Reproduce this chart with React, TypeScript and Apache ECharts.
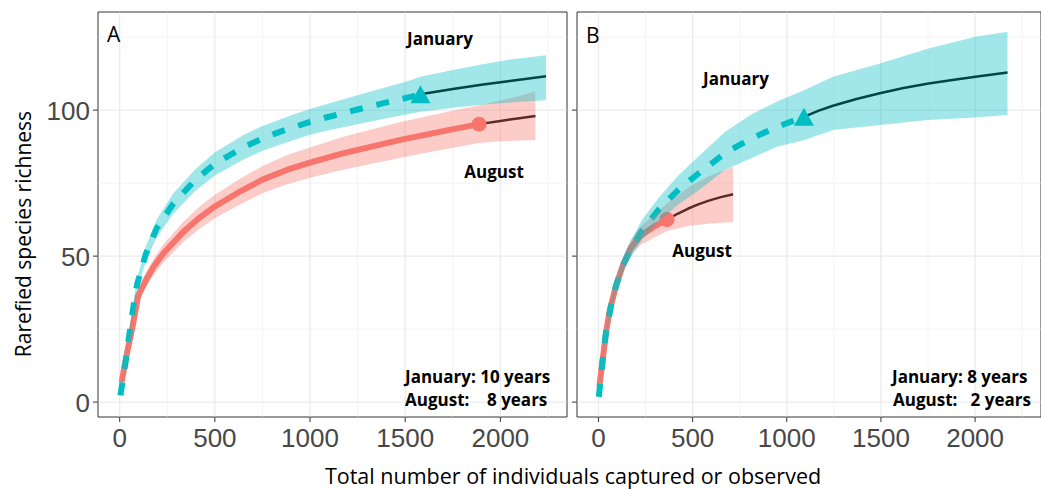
import React, { useEffect, useRef } from 'react';
import * as echarts from 'echarts';

// ---------- Panel A ----------
const janA_x = [4, 29, 48, 74, 92, 136, 194, 282, 396, 500, 651, 750, 830, 916, 1000, 1074, 1250, 1376, 1512, 1580];
const janA_y = [2.3, 13, 22, 33.5, 40.5, 50.5, 59.5, 68, 76, 81.6, 87.3, 90.3, 92.3, 94.2, 96, 97.3, 100.2, 102.2, 104.3, 105.4];
const janA_extX = [1580, 1750, 1900, 2050, 2240];
const janA_extY = [105.4, 107.2, 108.7, 110, 111.6];
const janA_bandX = [4, 29, 48, 74, 92, 136, 194, 282, 396, 500, 651, 750, 916, 1000, 1074, 1250, 1376, 1512, 1580, 1750, 1900, 2050, 2240];
const janA_lo = [1.9, 12, 20.6, 31.7, 38.4, 47.9, 56.5, 64.5, 72.3, 77.6, 83.1, 86.1, 89.8, 91.6, 92.8, 95.2, 96.9, 98.6, 99.4, 100.8, 101.8, 102.6, 103.4];
const janA_hi = [2.7, 14, 23.4, 35.3, 42.6, 53.1, 62.5, 71.5, 79.7, 85.6, 91.5, 94.6, 98.6, 100.4, 101.8, 105.1, 107.4, 109.9, 111.4, 113.7, 115.6, 117.3, 118.8];
const janA_ref = [1580, 105.4];

const augA_x = [10, 39, 68, 97, 116, 141, 180, 229, 334, 420, 500, 634, 750, 881, 1000, 1162, 1250, 1475, 1700, 1888];
const augA_y = [6.8, 17, 26, 36.4, 38.9, 42.2, 46.5, 50.9, 58.3, 63.2, 67, 72.2, 76.2, 79.6, 82, 85, 86.4, 89.8, 92.8, 95.2];
const augA_extX = [1888, 2000, 2100, 2184];
const augA_extY = [95.2, 96.3, 97.2, 98];
const augA_bandX = [10, 39, 68, 97, 116, 141, 180, 229, 334, 420, 500, 634, 750, 881, 1000, 1162, 1250, 1475, 1700, 1888, 2000, 2100, 2184];
const augA_lo = [6.2, 15.8, 24.4, 34.4, 36.7, 39.7, 43.7, 47.8, 54.8, 59.4, 63, 67.8, 71.5, 74.6, 76.8, 79.4, 80.6, 83.7, 86.5, 88.7, 89.3, 89.6, 89.8];
const augA_hi = [7.4, 18.2, 27.6, 38.4, 41.1, 44.7, 49.3, 54, 61.8, 67, 71, 76.6, 80.9, 84.6, 87.2, 90.6, 92.2, 95.9, 99.1, 101.7, 103.3, 104.8, 106.5];
const augA_ref = [1888, 95.2];

// ---------- Panel B ----------
const janB_x = [2, 19, 40, 67, 93, 128, 172, 233, 321, 426, 531, 671, 811, 951, 1091];
const janB_y = [1.8, 12.5, 23.9, 33, 39.8, 46.6, 52.5, 59, 66, 72.8, 78.3, 85.2, 90.3, 94.3, 97.7];
const janB_extX = [1091, 1170, 1245, 1370, 1494, 1620, 1753, 1880, 2002, 2172];
const janB_extY = [97.7, 99.8, 101.5, 103.8, 105.8, 107.6, 109.1, 110.3, 111.4, 112.9];
const janB_bandX = [2, 19, 40, 67, 93, 128, 172, 233, 321, 426, 531, 671, 811, 951, 1091, 1245, 1494, 1753, 2002, 2172];
const janB_lo = [1.4, 11.5, 22.6, 31.4, 37.8, 44.2, 49.7, 55.8, 61.9, 67.8, 72.5, 79.5, 83.5, 87.5, 89.7, 93.2, 94.9, 96.6, 97.5, 98.3];
const janB_hi = [2.2, 13.5, 25.2, 34.6, 41.8, 49, 55.3, 62.6, 70.1, 77.8, 84.1, 92.5, 98.5, 103, 106.8, 111.4, 116, 121.1, 125.1, 126.8];
const janB_ref = [1091, 97.7];

const augB_x = [5, 23, 40, 61, 93, 128, 171, 224, 300, 364];
const augB_y = [5.5, 14.8, 23.9, 31.8, 39.8, 46.6, 52.8, 57, 60.3, 62.5];
const augB_extX = [364, 420, 477, 530, 582, 650, 715];
const augB_extY = [62.5, 64.5, 66.3, 67.7, 68.9, 70.2, 71.2];
const augB_bandX = [5, 23, 40, 61, 93, 128, 171, 224, 300, 364, 477, 582, 715];
const augB_lo = [4.8, 13.8, 22.6, 30.2, 37.9, 44.4, 50.2, 53.8, 56.5, 58.6, 60.3, 61.1, 61.7];
const augB_hi = [6.2, 15.8, 25.2, 33.4, 41.7, 48.8, 55.4, 60.2, 64.3, 68, 73.5, 77.3, 80.6];
const augB_ref = [364, 62.5];

// ---------- Axes ----------
const xMajor = [0, 500, 1000, 1500, 2000];
const xMinor = [250, 750, 1250, 1750, 2250];
const yMajor = [0, 50, 100];
const yMinor = [25, 75, 125];
const xTickLabels = ['0', '500', '1000', '1500', '2000'];
const yTickLabels = ['0', '50', '100'];

const JAN = '#00BFC4';
const AUG = '#F8766D';
const JAN_BAND = 'rgba(0,191,196,0.37)';
const AUG_BAND = 'rgba(248,118,109,0.37)';

const pts = (xs: number[], ys: number[]) => xs.map((x, i) => [x, ys[i]]);

function frameSeries(idx: number) {
  return {
    type: 'custom',
    xAxisIndex: idx,
    yAxisIndex: idx,
    z: 1,
    silent: true,
    clip: false,
    data: [[0, 0]],
    renderItem: (params: any, api: any) => {
      const cs = params.coordSys;
      const top = cs.y;
      const bottom = cs.y + cs.height;
      const left = cs.x;
      const right = cs.x + cs.width;
      const ch: any[] = [];
      const vline = (px: number, color: string, w: number) =>
        ch.push({ type: 'line', shape: { x1: px, y1: top + 0.5, x2: px, y2: bottom - 0.5 }, style: { stroke: color, lineWidth: w } });
      const hline = (py: number, color: string, w: number) =>
        ch.push({ type: 'line', shape: { x1: left + 0.5, y1: py, x2: right - 0.5, y2: py }, style: { stroke: color, lineWidth: w } });
      xMinor.forEach((v) => vline(api.coord([v, 0])[0], '#F4F4F4', 1));
      yMinor.forEach((v) => hline(api.coord([0, v])[1], '#F4F4F4', 1));
      xMajor.forEach((v) => vline(api.coord([v, 0])[0], '#EBEBEB', 1.3));
      yMajor.forEach((v) => hline(api.coord([0, v])[1], '#EBEBEB', 1.3));
      xMajor.forEach((v, i) => {
        const px = api.coord([v, 0])[0];
        ch.push({ type: 'line', shape: { x1: px, y1: bottom, x2: px, y2: bottom + 5 }, style: { stroke: '#333', lineWidth: 1 } });
        ch.push({
          type: 'text',
          x: px,
          y: bottom + 20.5,
          style: { text: xTickLabels[i], fill: '#474747', fontSize: 26, fontFamily: 'Liberation Sans', align: 'center', verticalAlign: 'middle' },
        });
      });
      yMajor.forEach((v, i) => {
        const py = api.coord([0, v])[1];
        ch.push({ type: 'line', shape: { x1: left - 5, y1: py, x2: left, y2: py }, style: { stroke: '#333', lineWidth: 1 } });
        if (idx === 0) {
          ch.push({
            type: 'text',
            x: left - 8,
            y: py + 1,
            style: { text: yTickLabels[i], fill: '#474747', fontSize: 26, fontFamily: 'Liberation Sans', align: 'right', verticalAlign: 'middle' },
          });
        }
      });
      return { type: 'group', children: ch };
    },
  };
}

function bandSeries(idx: number, xs: number[], lo: number[], hi: number[], color: string, z: number) {
  return {
    type: 'custom',
    xAxisIndex: idx,
    yAxisIndex: idx,
    z,
    silent: true,
    clip: false,
    data: xs.map((x, i) => [x, lo[i], hi[i]]),
    renderItem: (params: any, api: any) => {
      if (params.dataIndex !== 0) return null;
      const upper = xs.map((x, i) => api.coord([x, hi[i]]));
      const lower = xs.map((x, i) => api.coord([x, lo[i]])).reverse();
      return { type: 'polygon', shape: { points: upper.concat(lower) }, style: { fill: color } };
    },
  };
}

function lineSeries(idx: number, xs: number[], ys: number[], color: string, width: number, dashed: boolean, z: number) {
  return {
    type: 'line',
    xAxisIndex: idx,
    yAxisIndex: idx,
    z,
    silent: true,
    data: pts(xs, ys),
    symbol: 'none',
    showSymbol: false,
    smooth: false,
    lineStyle: { color, width, type: dashed ? [13, 14] : 'solid', cap: 'butt', join: 'round' },
  };
}

function markerSeries(idx: number, p: number[], symbol: string, size: any, color: string) {
  return {
    type: 'scatter',
    xAxisIndex: idx,
    yAxisIndex: idx,
    z: 3,
    silent: true,
    data: [p],
    symbol,
    symbolSize: size,
    itemStyle: { color, opacity: 1 },
  };
}

const bold = (text: string, x: number, y: number, align = 'center') => ({
  type: 'text',
  x,
  y,
  z: 10,
  style: { text, fill: '#000', fontSize: 17, fontWeight: 'bold', fontFamily: 'Open Sans', align, verticalAlign: 'middle' },
});

export default function App() {
  const ref = useRef<HTMLDivElement>(null);
  useEffect(() => {
    if (!ref.current) return;
    const chart = echarts.init(ref.current, null, { renderer: 'svg' });
    const xAxisBase = { type: 'value', min: -114, max: 2350, show: false, splitLine: { show: false } };
    const yAxisBase = { type: 'value', min: -5.1, max: 133.6, show: false, splitLine: { show: false } };
    const option: any = {
      animation: false,
      backgroundColor: '#fff',
      grid: [
        { left: 98, top: 12, width: 469, height: 405, show: true, backgroundColor: '#fff', borderColor: '#333', borderWidth: 1 },
        { left: 577, top: 12, width: 469, height: 405, show: true, backgroundColor: '#fff', borderColor: '#333', borderWidth: 1 },
      ],
      xAxis: [
        { ...xAxisBase, gridIndex: 0 },
        { ...xAxisBase, gridIndex: 1 },
      ],
      yAxis: [
        { ...yAxisBase, gridIndex: 0 },
        { ...yAxisBase, gridIndex: 1 },
      ],
      series: [
        frameSeries(0),
        frameSeries(1),
        // Panel A
        lineSeries(0, augA_x, augA_y, AUG, 6, false, 2),
        lineSeries(0, augA_extX, augA_extY, '#000', 2.5, false, 2),
        lineSeries(0, janA_x, janA_y, JAN, 6, true, 2),
        lineSeries(0, janA_extX, janA_extY, '#000', 2.5, false, 2),
        markerSeries(0, augA_ref, 'circle', 15, AUG),
        markerSeries(0, janA_ref, 'triangle', [20, 18], JAN),
        bandSeries(0, augA_bandX, augA_lo, augA_hi, AUG_BAND, 4),
        bandSeries(0, janA_bandX, janA_lo, janA_hi, JAN_BAND, 4),
        // Panel B
        lineSeries(1, augB_x, augB_y, AUG, 6, false, 2),
        lineSeries(1, augB_extX, augB_extY, '#000', 2.5, false, 2),
        lineSeries(1, janB_x, janB_y, JAN, 6, true, 2),
        lineSeries(1, janB_extX, janB_extY, '#000', 2.5, false, 2),
        markerSeries(1, augB_ref, 'circle', 15, AUG),
        markerSeries(1, janB_ref, 'triangle', [20, 18], JAN),
        bandSeries(1, augB_bandX, augB_lo, augB_hi, AUG_BAND, 4),
        bandSeries(1, janB_bandX, janB_lo, janB_hi, JAN_BAND, 4),
      ],
      graphic: [
        { type: 'text', x: 107, y: 34, z: 10, style: { text: 'A', fill: '#000', fontSize: 21, fontFamily: 'Open Sans', align: 'left', verticalAlign: 'middle' } },
        { type: 'text', x: 586, y: 35, z: 10, style: { text: 'B', fill: '#000', fontSize: 21, fontFamily: 'Open Sans', align: 'left', verticalAlign: 'middle' } },
        bold('January', 440, 38),
        bold('August', 494, 171),
        bold('January: 10 years', 405, 376, 'left'),
        bold('August:    8 years', 405, 399, 'left'),
        bold('January', 736, 78),
        bold('August', 702, 250),
        bold('January: 8 years', 892, 376, 'left'),
        bold('August:   2 years', 893, 399, 'left'),
        {
          type: 'text', x: 573, y: 475, z: 10,
          style: { text: 'Total number of individuals captured or observed', fill: '#000', fontSize: 21.5, fontFamily: 'Open Sans', align: 'center', verticalAlign: 'middle' },
        },
        {
          type: 'text', x: 23, y: 234, rotation: Math.PI / 2, z: 10,
          style: { text: 'Rarefied species richness', fill: '#000', fontSize: 21, fontFamily: 'Open Sans', align: 'center', verticalAlign: 'middle' },
        },
      ],
    };
    chart.setOption(option);
    return () => chart.dispose();
  }, []);
  return <div ref={ref} style={{ position: 'fixed', left: 0, top: 0, width: 1041, height: 489 }} />;
}
